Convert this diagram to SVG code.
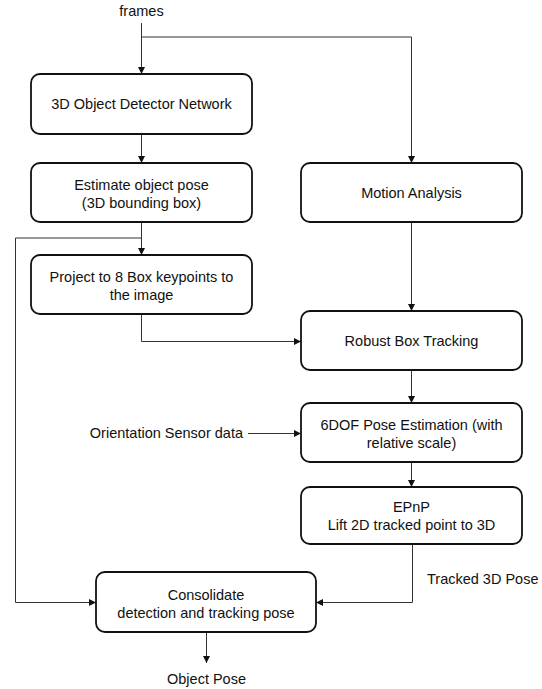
<svg xmlns="http://www.w3.org/2000/svg" width="542" height="689" viewBox="0 0 542 689">
<defs>
<marker id="arr" viewBox="0 0 10 10" refX="10" refY="5" markerWidth="8" markerHeight="7" markerUnits="userSpaceOnUse" orient="auto">
<path d="M0,0 L10,5 L0,10 z" fill="#111"/>
</marker>
<style>
.box{fill:#fff;stroke:#111;stroke-width:1.8}
.t{font-family:"Liberation Sans",Arial,Helvetica,sans-serif;font-size:14.5px;fill:#111;text-anchor:middle}
.c{fill:none;stroke:#333;stroke-width:1;marker-end:url(#arr)}
.l{fill:none;stroke:#333;stroke-width:1}
</style>
</defs>
<rect width="542" height="689" fill="#fff"/>
<g id="connectors">
<path class="l" d="M141.5,23 V37"/>
<path class="c" d="M141.5,37 V74"/>
<path class="c" d="M141.5,37 H411.5 V163"/>
<path class="c" d="M141.5,134 V163"/>
<path class="c" d="M141.5,222 V255"/>
<path class="c" d="M141.5,238 H15.5 V602.5 H96"/>
<path class="c" d="M141.5,314 V341.5 H301"/>
<path class="c" d="M411.5,222 V311"/>
<path class="c" d="M411.5,370 V403"/>
<path class="c" d="M248,433.5 H301"/>
<path class="c" d="M411.5,462 V487"/>
<path class="c" d="M412.5,544 V602.5 H316"/>
<path class="c" d="M206.5,632 V663"/>
</g>
<g id="labels">
<text class="t" x="141.5" y="16">frames</text>
<text class="t" x="243" y="438" style="text-anchor:end">Orientation Sensor data</text>
<text class="t" x="427" y="584" style="text-anchor:start">Tracked 3D Pose</text>
<text class="t" x="206.5" y="684">Object Pose</text>
</g>
<g id="detector">
<rect class="box" x="31" y="74" width="221" height="60" rx="9"/>
<text class="t" x="141.5" y="109">3D Object Detector Network</text>
</g>
<g id="estimate">
<rect class="box" x="31" y="163" width="221" height="59" rx="9"/>
<text class="t" x="141.5" y="190">Estimate object pose</text>
<text class="t" x="141.5" y="208">(3D bounding box)</text>
</g>
<g id="project">
<rect class="box" x="31" y="255" width="221" height="59" rx="9"/>
<text class="t" x="141.5" y="282">Project to 8 Box keypoints to</text>
<text class="t" x="141.5" y="300">the image</text>
</g>
<g id="motion">
<rect class="box" x="301" y="163" width="221" height="59" rx="9"/>
<text class="t" x="411.5" y="198">Motion Analysis</text>
</g>
<g id="robust">
<rect class="box" x="301" y="311" width="221" height="59" rx="9"/>
<text class="t" x="411.5" y="346">Robust Box Tracking</text>
</g>
<g id="pose6dof">
<rect class="box" x="301" y="403" width="221" height="59" rx="9"/>
<text class="t" x="411.5" y="430">6DOF Pose Estimation (with</text>
<text class="t" x="411.5" y="448">relative scale)</text>
</g>
<g id="epnp">
<rect class="box" x="301" y="487" width="221" height="57" rx="9"/>
<text class="t" x="411.5" y="512">EPnP</text>
<text class="t" x="411.5" y="530">Lift 2D tracked point to 3D</text>
</g>
<g id="consolidate">
<rect class="box" x="96" y="572" width="220" height="60" rx="9"/>
<text class="t" x="206" y="600">Consolidate</text>
<text class="t" x="206" y="618">detection and tracking pose</text>
</g>
</svg>
